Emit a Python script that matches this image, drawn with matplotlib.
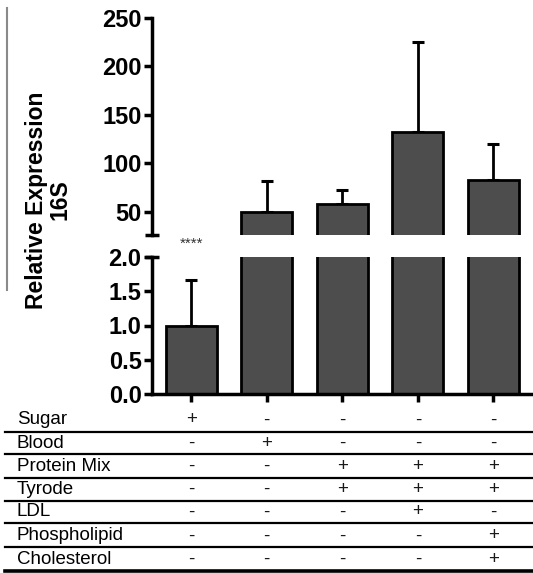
import numpy as np
import matplotlib.pyplot as plt
from matplotlib.lines import Line2D
from matplotlib.transforms import blended_transform_factory

plt.rcParams['font.family'] = ['Liberation Sans', 'DejaVu Sans']

# data
groups = ["Sugar", "Blood", "Protein Mix", "Protein Mix + LDL", "Protein Mix + PL + Chol"]
means = [1.0, 50.0, 58.5, 132.5, 83.0]
upper = [1.67, 82.0, 72.7, 225.6, 120.0]  # top of error bar
signif = "****"

row_labels = ["Sugar", "Blood", "Protein Mix", "Tyrode", "LDL", "Phospholipid", "Cholesterol"]
signs = [
    ["+", "-", "-", "-", "-"],
    ["-", "+", "-", "-", "-"],
    ["-", "-", "+", "+", "+"],
    ["-", "-", "+", "+", "+"],
    ["-", "-", "-", "+", "-"],
    ["-", "-", "-", "-", "+"],
    ["-", "-", "-", "-", "+"],
]

top_ticks = [50, 100, 150, 200, 250]
bot_ticks = [0.0, 0.5, 1.0, 1.5, 2.0]

W, H = 533, 573
fig = plt.figure(figsize=(W / 100, H / 100), dpi=100)

# axes placed in pixel units (from top-left)
def box(x0, y0, x1, y1):
    return [x0 / W, 1 - y1 / H, (x1 - x0) / W, (y1 - y0) / H]

ax_top = fig.add_axes(box(152, 18, 532, 235))
ax_bot = fig.add_axes(box(152, 257, 532, 394))

x = np.arange(len(groups))
means = np.array(means)
err = np.array(upper) - means
bar_col = "#4d4d4d"

for ax in (ax_top, ax_bot):
    ax.bar(x, means, width=0.675, color=bar_col, edgecolor="black", linewidth=2, zorder=2)
    ax.errorbar(x, means, yerr=[np.zeros_like(err), err], fmt="none", ecolor="black",
                elinewidth=2, capsize=4.3, capthick=2.2, zorder=1)
    ax.set_xlim(-0.517, 4.51)
    for s in ("top", "right"):
        ax.spines[s].set_visible(False)
    ax.spines["left"].set_linewidth(2.5)
    ax.spines["bottom"].set_linewidth(2.5)
    ax.tick_params(axis="y", length=6, width=2.5, labelsize=17, pad=1.5)

ax_top.set_ylim(26, 250)
ax_top.set_yticks(top_ticks)
ax_top.set_yticklabels([str(t) for t in top_ticks], fontweight="bold")
ax_top.spines["bottom"].set_visible(False)
ax_top.set_xticks([])

ax_bot.set_ylim(0, 2.0)
ax_bot.set_yticks(bot_ticks)
ax_bot.set_yticklabels([f"{t:.1f}" for t in bot_ticks], fontweight="bold")
ax_bot.set_xticks(x)
ax_bot.set_xticklabels([])
ax_bot.tick_params(axis="x", length=6, width=2.5, direction="out")

# break marks on the axis
ax_top.plot(0, 0, marker="_", ms=10, mew=2.5, color="black", transform=ax_top.transAxes, clip_on=False)
ax_bot.plot(0, 1, marker="_", ms=10, mew=2.5, color="black", transform=ax_bot.transAxes, clip_on=False)

trans = blended_transform_factory(ax_bot.transData, fig.transFigure)

# significance stars
fig.text(x[0], 1 - 244 / H, signif, transform=trans, ha="center", va="center",
         fontsize=11, color="#333333")

# y label
fig.text(48 / W, 1 - 200 / H, "Relative Expression\n16S", rotation=90, ha="center",
         va="center", multialignment="center", fontsize=16.5, fontweight="bold",
         linespacing=1.05)

# thin gray line at far left
fig.add_artist(Line2D([7 / W, 7 / W], [1 - 8 / H, 1 - 290 / H], color="#8a8a8a", lw=1.5))

# condition table
row_y = [420, 443, 466.5, 489.5, 512, 536, 559.5]
line_y = [431.5, 454, 477.5, 500.5, 523, 546.5, 570.5]
for i, lab in enumerate(row_labels):
    fig.text(17 / W, 1 - row_y[i] / H, lab, ha="left", va="center", fontsize=13.5)
    for j, s in enumerate(signs[i]):
        fig.text(x[j], 1 - row_y[i] / H, s, transform=trans, ha="center", va="center",
                 fontsize=13.5, color="#1a1a1a")
    lw = 2.6 if i == len(row_labels) - 1 else 1.6
    fig.add_artist(Line2D([5 / W, 1], [1 - line_y[i] / H] * 2, color="black", lw=lw))

fig.savefig("out.png", dpi=100)
